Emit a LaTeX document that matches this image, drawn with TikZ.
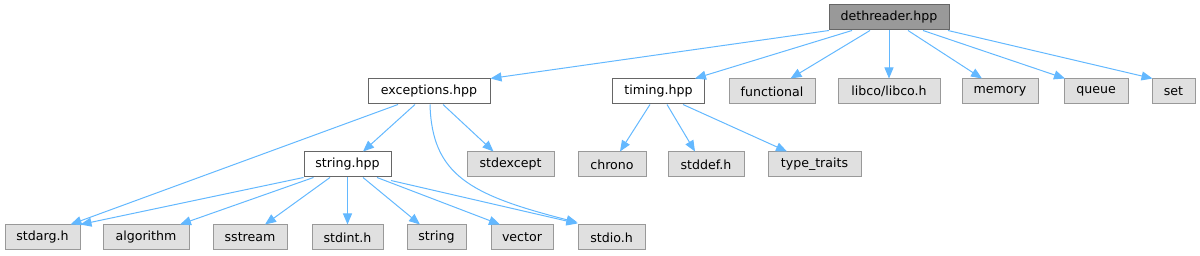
\documentclass[tikz,border=0pt]{standalone}
\usepackage{fontspec}
\setmainfont{DejaVu Sans}
\usetikzlibrary{arrows.meta}
\definecolor{edgeblue}{HTML}{63B8FF}
\definecolor{rootfill}{HTML}{999999}
\definecolor{darkborder}{HTML}{666666}
\definecolor{extfill}{HTML}{E0E0E0}
\definecolor{extborder}{HTML}{999999}
\begin{document}
\begin{tikzpicture}[x=1pt,y=-1pt,
  box/.style={draw=darkborder, line width=1pt, minimum height=25pt, inner sep=0pt,
    font=\fontsize{12.6}{15}\selectfont, text=black},
  rootbox/.style={box, fill=rootfill},
  innerbox/.style={box, fill=white},
  extbox/.style={box, fill=extfill, draw=extborder},
  edge/.style={draw=edgeblue, line width=1pt, -{Triangle[length=11pt,width=9pt]}}
]
\useasboundingbox (0,0) rectangle (1200,256);

% top
\node[rootbox, minimum width=120pt] (d) at (889,17.5) {dethreader.hpp};
% row 2
\node[innerbox, minimum width=122pt] (exc) at (429,91.5) {exceptions.hpp};
\node[innerbox, minimum width=92pt] (tim) at (658.5,91.5) {timing.hpp};
\node[extbox, minimum width=86pt] (fun) at (772,91.5) {functional};
\node[extbox, minimum width=102pt] (lib) at (889,91.5) {libco/libco.h};
\node[extbox, minimum width=76pt] (mem) at (1000,91.5) {memory};
\node[extbox, minimum width=64pt] (que) at (1096,91.5) {queue};
\node[extbox, minimum width=43pt] (set) at (1173.5,91.5) {set};
% row 3
\node[innerbox, minimum width=87pt] (str) at (347.5,164.5) {string.hpp};
\node[extbox, minimum width=87pt] (sexc) at (510.5,164.5) {stdexcept};
\node[extbox, minimum width=68pt] (chr) at (612,164.5) {chrono};
\node[extbox, minimum width=76pt] (sdef) at (706,164.5) {stddef.h};
\node[extbox, minimum width=93pt] (tt) at (814.5,164.5) {type\_traits};
% row 4
\node[extbox, minimum width=75pt] (sarg) at (42.5,237.5) {stdarg.h};
\node[extbox, minimum width=86pt] (alg) at (146,237.5) {algorithm};
\node[extbox, minimum width=74pt] (sst) at (250,237.5) {sstream};
\node[extbox, minimum width=71pt] (sint) at (347.5,237.5) {stdint.h};
\node[extbox, minimum width=59pt] (sstr) at (436.5,237.5) {string};
\node[extbox, minimum width=62pt] (vec) at (522,237.5) {vector};
\node[extbox, minimum width=67pt] (sio) at (611.5,237.5) {stdio.h};

% dethreader edges
\draw[edge] ([xshift=-60pt]d.south) -- (exc.north east);
\draw[edge] ([xshift=-37pt]d.south) -- ([xshift=36.5pt]tim.north);
\draw[edge] ([xshift=-19pt]d.south) -- ([xshift=18.5pt]fun.north);
\draw[edge] (d.south) -- (lib.north);
\draw[edge] ([xshift=19pt]d.south) -- ([xshift=-18pt]mem.north);
\draw[edge] ([xshift=34pt]d.south) -- ([xshift=-31pt]que.north);
\draw[edge] ([xshift=59pt]d.south) -- ([xshift=-21pt]set.north);

% exceptions edges
\draw[edge] ([xshift=-31pt]exc.south) -- ([xshift=28pt]sarg.north);
\draw[edge] ([xshift=-14pt]exc.south) -- ([xshift=15.5pt]str.north);
\draw[edge] ([xshift=14pt]exc.south) -- ([xshift=-17pt]sexc.north);
\draw[edge] ([xshift=1pt]exc.south) .. controls (432,175) and (470,195) .. ([yshift=2pt]sio.north west);

% string.hpp edges
\draw[edge] ([xshift=-44pt]str.south) -- (sarg.north east);
\draw[edge] ([xshift=-34pt]str.south) -- ([xshift=34pt]alg.north);
\draw[edge] ([xshift=-17.5pt]str.south) -- ([xshift=15pt]sst.north);
\draw[edge] (str.south) -- (sint.north);
\draw[edge] ([xshift=15.5pt]str.south) -- ([xshift=-16.5pt]sstr.north);
\draw[edge] ([xshift=29.5pt]str.south) -- ([xshift=-22pt]vec.north);
\draw[edge] ([xshift=43.5pt,yshift=-3pt]str.south) -- ([yshift=1pt]sio.north west);

% timing edges
\draw[edge] ([xshift=-8.5pt]tim.south) -- ([xshift=8pt]chr.north);
\draw[edge] ([xshift=8.5pt]tim.south) -- ([xshift=-11pt]sdef.north);
\draw[edge] ([xshift=24.5pt]tim.south) -- ([xshift=-27.5pt]tt.north);
\end{tikzpicture}
\end{document}
